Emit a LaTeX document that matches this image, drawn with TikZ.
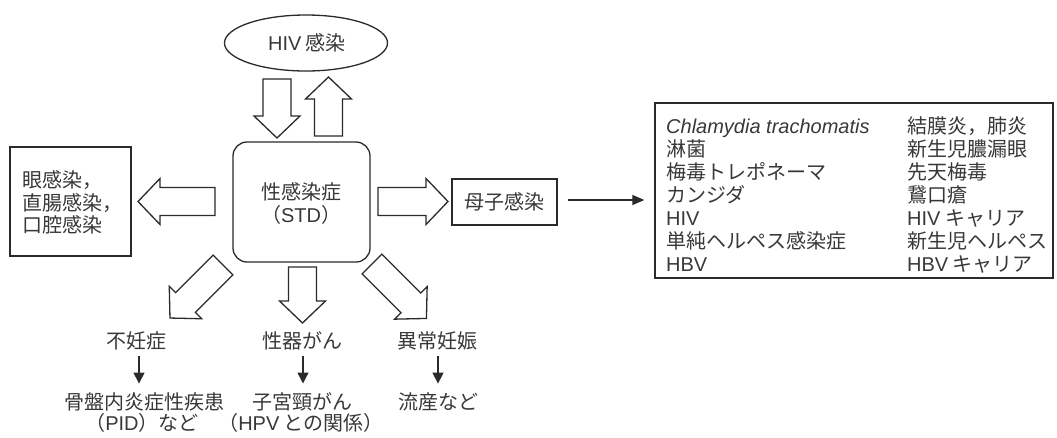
\documentclass[tikz,border=0pt]{standalone}
\usepackage{fontspec}
\setmainfont{Noto Sans CJK JP}
\newfontfamily\lat{Liberation Sans}
\usetikzlibrary{shapes.geometric,arrows.meta}
\definecolor{ink}{HTML}{2A2A2A}
\definecolor{txt}{HTML}{383838}
\tikzset{
  lbl/.style={text=txt, font=\fontsize{20}{23}\selectfont, inner sep=0pt},
  line/.style={draw=ink, line width=1.3pt, line join=miter},
  boxline/.style={line, inner sep=0pt},
  pics/barrow/.style={code={
    \draw[line, fill=white] (0,-14) -- ({#1-22},-14) -- ({#1-22},-23) -- (#1,0)
      -- ({#1-22},23) -- ({#1-22},14) -- (0,14) -- cycle;}},
  thinarrow/.style={draw=ink, line width=1.3pt, -{Triangle[length=12pt,width=10pt]}},
  smallarrow/.style={draw=ink, line width=1.3pt, -{Triangle[length=11pt,width=11pt]}},
}
\begin{document}
\begin{tikzpicture}[x=1pt,y=-1pt]
\useasboundingbox (0,0) rectangle (1057,437);

% HIV ellipse
\node[ellipse, boxline, minimum width=163pt, minimum height=56pt] (hiv) at (306,43) {};
\node[lbl] (hivt) at (307,43) {{\lat HIV} 感染};

% arrows between HIV and STD
\pic[rotate=-90] at (277,79) {barrow=59};
\pic[rotate=90] at (328.5,136) {barrow=59};

% STD box
\node[boxline, rounded corners=14pt, minimum width=137pt, minimum height=120pt] (std) at (301.5,202) {};
\node[lbl, align=center] (stdt) at (301,203.5) {性感染症\\（{\lat STD}）};

% left box
\node[boxline, minimum width=121pt, minimum height=109pt] (eye) at (70.5,201.5) {};
\node[lbl, anchor=west, align=left, font=\fontsize{20}{22.5}\selectfont] (eyet) at (22,202.5) {眼感染，\\直腸感染，\\口腔感染};

% left / right block arrows
\pic[rotate=180] at (215,201.5) {barrow=77};
\pic at (378,201.5) {barrow=70};

% mother-child box
\node[boxline, minimum width=105pt, minimum height=46pt] (mc) at (504.5,202) {};
\node[lbl] (mct) at (504.5,202) {母子感染};

% list box
\node[boxline, minimum width=398pt, minimum height=175pt] (list) at (854,190.5) {};
\draw[thinarrow] ([xshift=10pt,yshift=2pt]mc.east) -- ([xshift=-10pt,yshift=2pt]mc.east -| list.west);

\node[lbl, anchor=base west] (a1) at (666,133.5) {{\lat\itshape Chlamydia trachomatis}};
\node[lbl, anchor=base west] (a2) at (666,156.5) {淋菌};
\node[lbl, anchor=base west] (a3) at (666,179.5) {梅毒トレポネーマ};
\node[lbl, anchor=base west] (a4) at (666,202.5) {カンジダ};
\node[lbl, anchor=base west] (a5) at (666,225.5) {{\lat HIV}};
\node[lbl, anchor=base west] (a6) at (666,248.5) {単純ヘルペス感染症};
\node[lbl, anchor=base west] (a7) at (666,271.5) {{\lat HBV}};

\node[lbl, anchor=base west] (b1) at (907,133.5) {結膜炎，肺炎};
\node[lbl, anchor=base west] (b2) at (907,156.5) {新生児膿漏眼};
\node[lbl, anchor=base west] (b3) at (907,179.5) {先天梅毒};
\node[lbl, anchor=base west] (b4) at (907,202.5) {鵞口瘡};
\node[lbl, anchor=base west] (b5) at (907,225.5) {{\lat HIV} キャリア};
\node[lbl, anchor=base west] (b6) at (907,248.5) {新生児ヘルペス};
\node[lbl, anchor=base west] (b7) at (907,271.5) {{\lat HBV} キャリア};

% bottom block arrows
\pic[rotate=-135] at (223,265) {barrow=75};
\pic[rotate=-90] at (302.5,267) {barrow=56};
\pic[rotate=-45] at (372,264) {barrow=77};

% bottom labels
\node[lbl] (inf) at (136,341) {不妊症};
\node[lbl] (gen) at (302,341) {性器がん};
\node[lbl] (abn) at (437,341) {異常妊娠};

\node[lbl] (pid1) at (144,402) {骨盤内炎症性疾患};
\node[lbl] (pid2) at (142,423) {（{\lat PID}）など};
\node[lbl] (cx1) at (302,402) {子宮頸がん};
\node[lbl] (cx2) at (301,423) {（{\lat HPV} との関係）};
\node[lbl] (mis) at (438,402) {流産など};

\draw[smallarrow, shorten <=6pt, shorten >=9pt] ([xshift=3pt]inf.south) -- ([xshift=3pt]inf.south |- pid1.north);
\draw[smallarrow, shorten <=6pt, shorten >=9pt] ([xshift=1pt]gen.south) -- ([xshift=1pt]gen.south |- cx1.north);
\draw[smallarrow, shorten <=6pt, shorten >=9pt] ([xshift=1pt]abn.south) -- ([xshift=1pt]abn.south |- mis.north);
\end{tikzpicture}
\end{document}
